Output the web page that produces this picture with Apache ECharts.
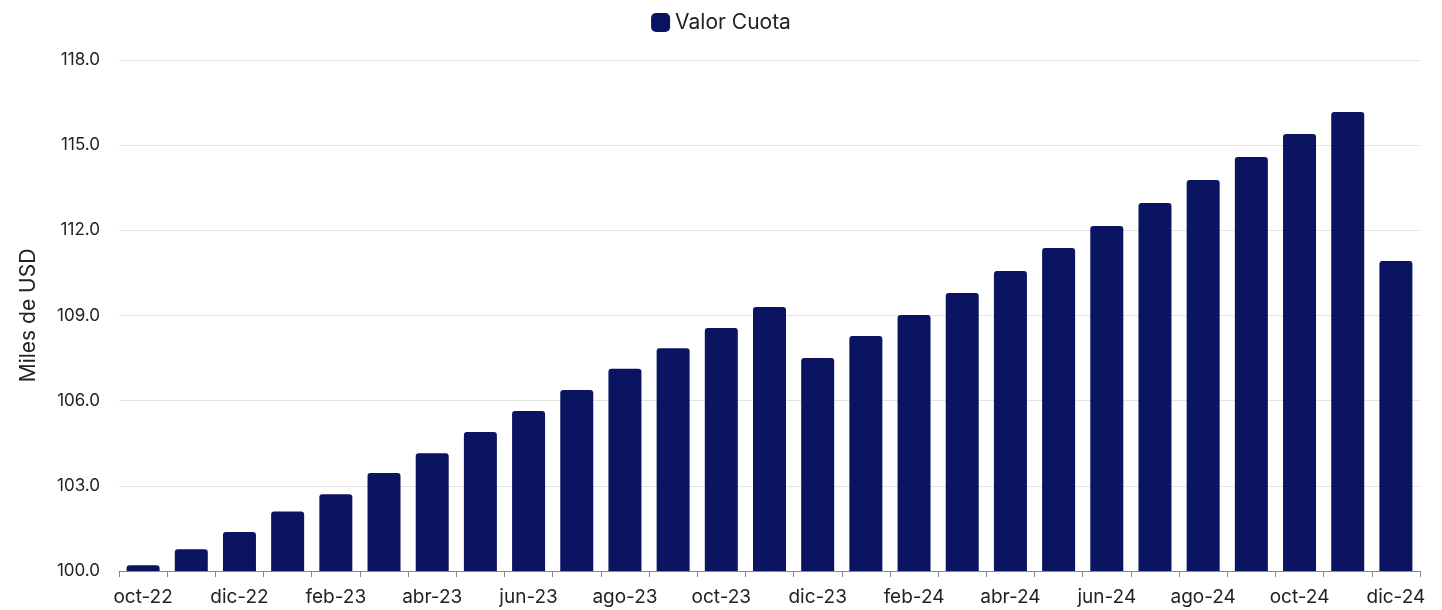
<!DOCTYPE html>
<html>
<head>
<meta charset="UTF-8">
<script type="text/javascript" src="https://cdn.jsdelivr.net/npm/echarts@6/dist/echarts.min.js"></script>
<style>
  html, body { margin: 0; padding: 0; background: #fff; }
</style>
</head>
<body>
<div id="chartmain" style="width:1442px; height:610px;"></div>
<script type="text/javascript">
var months = ['oct-22', 'nov-22', 'dic-22', 'ene-23', 'feb-23', 'mar-23', 'abr-23', 'may-23', 'jun-23',
  'jul-23', 'ago-23', 'sep-23', 'oct-23', 'nov-23', 'dic-23', 'ene-24', 'feb-24', 'mar-24',
  'abr-24', 'may-24', 'jun-24', 'jul-24', 'ago-24', 'sep-24', 'oct-24', 'nov-24', 'dic-24'];
var valorCuota = [100.2, 100.77, 101.37, 102.1, 102.7, 103.45, 104.15, 104.9, 105.64,
  106.38, 107.12, 107.85, 108.56, 109.3, 107.5, 108.28, 109.02, 109.79,
  110.57, 111.38, 112.15, 112.96, 113.77, 114.58, 115.39, 116.17, 110.92];
var yMin = 100, yMax = 118, yStep = 3;

var font = 'Inter, "Noto Sans", sans-serif';

var option = {
  animation: false,
  legend: {
    top: 7,
    left: 'center',
    data: ['Valor Cuota'],
    icon: 'roundRect',
    itemWidth: 19,
    itemHeight: 19,
    itemGap: 10,
    textStyle: { fontSize: 21, color: '#222', fontFamily: font }
  },
  grid: {
    left: 119,
    right: 22,
    top: 60,
    bottom: 39
  },
  xAxis: {
    type: 'category',
    data: months,
    axisLine: { lineStyle: { color: '#888', width: 1 } },
    axisTick: { show: true, alignWithLabel: false, interval: 0, length: 6, lineStyle: { color: '#888' } },
    axisLabel: { interval: 1, fontSize: 19, color: '#222', fontFamily: font, margin: 17 }
  },
  yAxis: {
    type: 'value',
    min: yMin,
    max: yMax,
    interval: yStep,
    name: 'Miles de USD',
    nameLocation: 'middle',
    nameGap: 80,
    nameTextStyle: { fontSize: 21, color: '#222', fontFamily: font },
    axisLine: { show: false },
    axisTick: { show: false },
    axisLabel: {
      fontSize: 17, color: '#222', fontFamily: font, margin: 19,
      formatter: function (v) { return v.toFixed(1); }
    },
    splitLine: { lineStyle: { color: '#e3e3e3', width: 1 } }
  },
  series: [{
    name: 'Valor Cuota',
    type: 'bar',
    data: valorCuota,
    barWidth: 33,
    itemStyle: { color: '#0b1460', borderRadius: [3, 3, 0, 0] }
  }]
};

var myChart = echarts.init(document.getElementById('chartmain'));
myChart.setOption(option);
</script>
</body>
</html>
